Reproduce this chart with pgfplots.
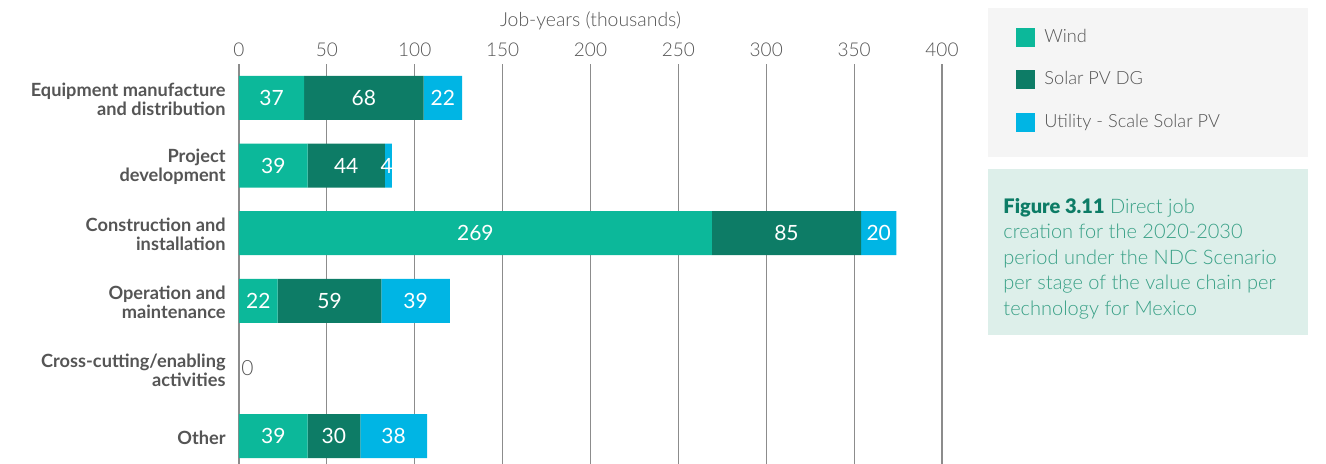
\documentclass[border=0pt]{standalone}
\usepackage{pgfplots}
\pgfplotsset{compat=1.18}
\usepackage{fontspec}
\setmainfont{Lato}
\IfFontExistsTF{Lato Light}{\newfontfamily\light{Lato Light}}{\newfontfamily\light{Lato}}
\IfFontExistsTF{Lato Black}{\newfontfamily\heavy{Lato Black}}{\newfontfamily\heavy{Lato}[UprightFont=*-Bold]}
\definecolor{wind}{HTML}{0CB89A}
\definecolor{pvdg}{HTML}{0D7C66}
\definecolor{util}{HTML}{00B5E4}
\definecolor{txt}{HTML}{555555}
\definecolor{legbg}{HTML}{F5F5F5}
\definecolor{capbg}{HTML}{DDEFEA}
\definecolor{capdark}{HTML}{0D7C66}
\definecolor{caplight}{HTML}{38A086}
\definecolor{gridc}{HTML}{8C8C8C}
\tikzset{lbl/.style={text=white, font=\fontsize{10.5}{12}\selectfont}}
\pgfplotsset{geom/.style={at={(119.5pt,-32pt)}, anchor=north west,
 scale only axis, width=351.5pt, height=203pt,
 xmin=0, xmax=400, ymin=-0.5, ymax=5.5, y dir=reverse}}
\begin{document}
\begin{tikzpicture}
\useasboundingbox (0,0) rectangle (663pt,-232pt);
\fill[legbg] (494pt,-4pt) rectangle (654pt,-78.5pt);
\fill[capbg] (494pt,-84.5pt) rectangle (654pt,-167.5pt);
\node[anchor=north west, inner sep=0pt, align=left, font=\light\fontsize{10}{12.75}\selectfont, text=caplight] at (501.5pt,-99pt)
 {{\heavy\color{capdark}Figure 3.11} Direct job\\creation for the 2020-2030\\period under the NDC Scenario\\per stage of the value chain per\\technology for Mexico};
\begin{axis}[geom,
 xbar stacked, bar width=22pt,
 xtick={0,50,...,400}, ytick={0,1,2,3,4,5},
 yticklabels={{Equipment manufacture\\and distribution},{Project\\development},{Construction and\\installation},{Operation and\\maintenance},{Cross-cutting/enabling\\activities},{Other}},
 xticklabel pos=right,
 axis line style={draw=none},
 major tick length=0pt,
 xmajorgrids, grid style={draw=gridc, line width=0.6pt},
 /pgf/number format/assume math mode=true,
 xticklabel style={font=\light\fontsize{9.5}{10}\selectfont, text=txt},
 yticklabel style={align=right, font=\bfseries\fontsize{9.1}{9.5}\selectfont, text=txt, inner sep=0pt, xshift=-6.5pt, yshift=-0.8pt},
 xlabel={Job-years (thousands)},
 xlabel style={font=\light\fontsize{9.7}{10}\selectfont, text=txt},
 legend style={at={(1.1053,1.0960)}, anchor=north west, draw=none, fill=none, font=\light\fontsize{9.1}{10}\selectfont, text=txt, row sep=9pt, inner sep=0pt, /tikz/every odd column/.append style={column sep=2.5pt}},
 legend cell align=left,
 legend image code/.code={\path[#1, draw=none] (0pt,-4.75pt) rectangle (9.5pt,4.75pt);},
]
\addplot[fill=wind, draw=none] coordinates {(37,0) (39,1) (269,2) (22,3) (0,4) (39,5)};
\addplot[fill=pvdg, draw=none] coordinates {(68,0) (44,1) (85,2) (59,3) (0,4) (30,5)};
\addplot[fill=util, draw=none] coordinates {(22,0) (4,1) (20,2) (39,3) (0,4) (38,5)};
\legend{Wind, Solar PV DG, Utility - Scale Solar PV}
\end{axis}
\begin{axis}[geom, hide axis]
\node[lbl] at (18.5,0) {37}; \node[lbl] at (71,0) {68}; \node[lbl] at (116,0) {22};
\node[lbl] at (19.5,1) {39}; \node[lbl] at (61,1) {44}; \node[lbl] at (84,1) {4};
\node[lbl] at (134.5,2) {269}; \node[lbl] at (311.5,2) {85}; \node[lbl] at (364,2) {20};
\node[lbl] at (11,3) {22}; \node[lbl] at (51.5,3) {59}; \node[lbl] at (100.5,3) {39};
\node[lbl] at (19.5,5) {39}; \node[lbl] at (54,5) {30}; \node[lbl] at (88,5) {38};
\node[anchor=west, inner sep=1pt, text=txt, font=\light\fontsize{10.5}{12}\selectfont] at (0,4) {0};
\end{axis}
\end{tikzpicture}
\end{document}
